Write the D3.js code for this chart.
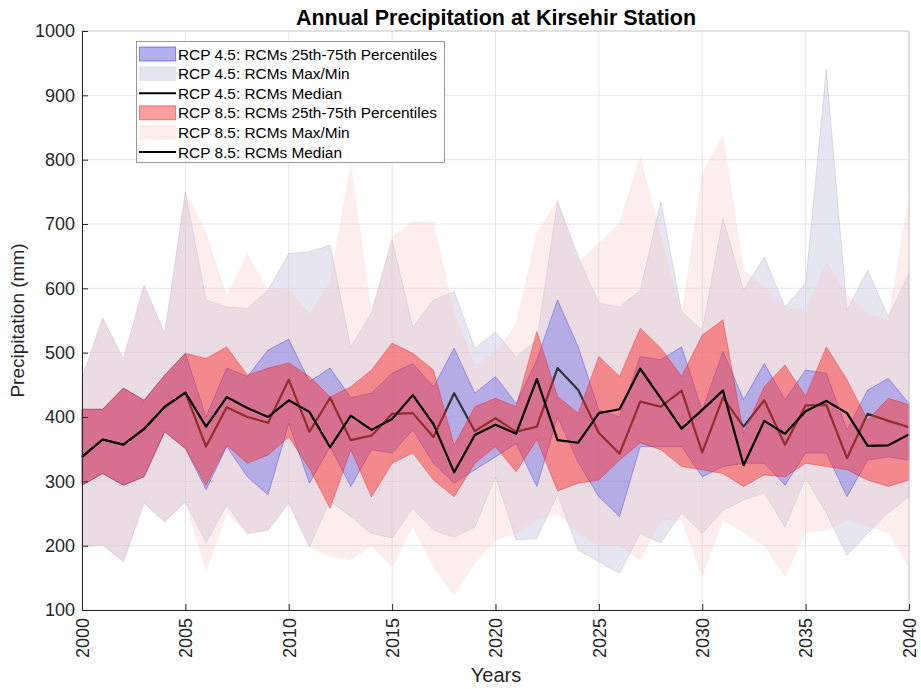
<!DOCTYPE html>
<html>
<head>
<meta charset="utf-8">
<script src="https://cdn.jsdelivr.net/npm/d3@7"></script>
<style>
  html, body { margin: 0; padding: 0; background: #fff; }
  svg { display: block; font-family: "Liberation Sans", Arial, sans-serif; }
</style>
</head>
<body>
<svg id="chart" width="921" height="689"></svg>
<script>
// ---------------- DATA ----------------
const years = d3.range(2000, 2041);
const xTicks = [2000, 2005, 2010, 2015, 2020, 2025, 2030, 2035, 2040];
const yTicks = [100, 200, 300, 400, 500, 600, 700, 800, 900, 1000];

// RCP 4.5
const max45 = [460,554,490,605,530,750,582,571,569,597,654,657,667,509,562,675,540,582,595,507,532,493,520,735,649,577,571,597,735,564,535,709,597,649,571,608,940,566,628,556,623];
const min45 = [198,201,175,266,237,268,205,263,219,224,266,198,270,245,219,212,258,224,213,229,307,209,211,280,193,175,157,219,204,251,219,255,271,282,229,305,251,185,219,251,276];
const q75_45 = [412,412,445,426,465,499,400,476,463,504,521,455,476,430,437,468,483,447,507,437,463,421,489,582,509,411,400,494,489,509,410,502,427,483,427,473,468,380,442,460,421];
const q25_45 = [294,312,294,307,377,351,287,354,307,279,390,297,354,292,349,344,380,328,297,318,338,359,292,400,330,276,245,354,354,354,307,323,328,328,294,344,344,276,333,338,333];
const med45 = [338,365,357,382,415,438,354,415,400,391,458,377,430,364,371,405,406,369,437,378,398,377,385,476,442,375,343,424,416,441,345,430,385,426,357,418,419,336,405,394,384];

// RCP 8.5
const max85 = [460,554,490,605,530,750,686,587,653,597,600,560,610,792,562,680,704,702,560,480,500,545,686,737,640,670,701,805,680,556,779,838,628,602,571,566,640,590,560,551,742];
const min85 = [198,201,175,266,237,268,161,250,219,224,266,198,183,178,200,167,230,167,123,173,209,219,240,250,220,200,200,178,240,240,152,240,220,200,152,220,224,240,230,220,167];
const q75_85 = [412,412,445,426,465,499,491,509,465,476,484,463,431,447,473,515,499,473,356,416,429,416,533,432,406,494,463,538,507,463,527,551,375,447,481,432,509,458,395,429,419];
const q25_85 = [294,312,294,307,377,351,294,356,328,341,369,320,258,349,276,328,344,302,276,328,354,315,365,285,297,302,333,360,349,323,318,312,292,310,307,328,323,318,302,292,302];
const med85 = [338,365,357,381,416,438,385,431,414,400,426,408,353,402,380,397,434,389,314,372,388,374,459,364,360,406,412,475,429,382,411,441,325,394,374,409,425,406,355,356,373];

const legendLabels = [
  "RCP 4.5: RCMs 25th-75th Percentiles",
  "RCP 4.5: RCMs Max/Min",
  "RCP 4.5: RCMs Median",
  "RCP 8.5: RCMs 25th-75th Percentiles",
  "RCP 8.5: RCMs Max/Min",
  "RCP 8.5: RCMs Median"
];

// ---------------- CHART ----------------
const svg = d3.select("#chart");
const M = { left: 82, right: 909, top: 31, bottom: 610 };

const x = d3.scaleLinear().domain([2000, 2040]).range([M.left, M.right]);
const y = d3.scaleLinear().domain([100, 1000]).range([M.bottom, M.top]);

// grid
const grid = svg.append("g");
grid.selectAll("line.gx").data(xTicks).join("line")
  .attr("x1", d => x(d)).attr("x2", d => x(d))
  .attr("y1", M.top).attr("y2", M.bottom)
  .attr("stroke", "#e6e6e6").attr("stroke-width", 1);
grid.selectAll("line.gy").data(yTicks).join("line")
  .attr("x1", M.left).attr("x2", M.right)
  .attr("y1", d => y(d)).attr("y2", d => y(d))
  .attr("stroke", "#e6e6e6").attr("stroke-width", 1);

function band(lo, hi) {
  return d3.area()
    .x((d, i) => x(years[i]))
    .y0((d, i) => y(lo[i]))
    .y1((d, i) => y(hi[i]))(years);
}
const lineGen = arr => d3.line().x((d, i) => x(years[i])).y((d, i) => y(arr[i]))(years);

const plot = svg.append("g");

// Max/Min bands
plot.append("path").attr("d", band(min45, max45))
  .attr("fill", "rgb(200,200,225)").attr("fill-opacity", 0.45)
  .attr("stroke", "rgb(120,120,170)").attr("stroke-opacity", 0.25).attr("stroke-width", 0.8);
plot.append("path").attr("d", band(min85, max85))
  .attr("fill", "rgb(250,200,200)").attr("fill-opacity", 0.3)
  .attr("stroke", "rgb(250,200,200)").attr("stroke-opacity", 0.2).attr("stroke-width", 0.8);

// RCP 4.5 IQR
plot.append("path").attr("d", band(q25_45, q75_45))
  .attr("fill", "rgb(100,100,230)").attr("fill-opacity", 0.4)
  .attr("stroke", "rgb(40,40,220)").attr("stroke-opacity", 0.45).attr("stroke-width", 0.8);
// RCP 4.5 median
plot.append("path").attr("d", lineGen(med45))
  .attr("fill", "none").attr("stroke", "#333").attr("stroke-width", 2.2)
  .attr("stroke-linejoin", "round");

// RCP 8.5 IQR
plot.append("path").attr("d", band(q25_85, q75_85))
  .attr("fill", "rgb(255,40,40)").attr("fill-opacity", 0.46)
  .attr("stroke", "rgb(230,20,20)").attr("stroke-opacity", 0.45).attr("stroke-width", 0.8);
// RCP 8.5 median
plot.append("path").attr("d", lineGen(med85))
  .attr("fill", "none").attr("stroke", "#000").attr("stroke-width", 2.2)
  .attr("stroke-linejoin", "round");

// axes frame
svg.append("line").attr("x1", M.left).attr("x2", M.right).attr("y1", M.top).attr("y2", M.top)
  .attr("stroke", "#d0d0d0");
svg.append("line").attr("x1", M.right).attr("x2", M.right).attr("y1", M.top).attr("y2", M.bottom)
  .attr("stroke", "#d0d0d0");

const xAxis = d3.axisBottom(x).tickValues(xTicks).tickFormat(d3.format("d"))
  .tickSizeInner(-6).tickSizeOuter(0);
const gx = svg.append("g").attr("transform", `translate(0,${M.bottom})`).call(xAxis);
gx.select(".domain").attr("stroke", "#262626");
gx.selectAll(".tick line").attr("stroke", "#262626");
gx.selectAll(".tick text")
  .attr("font-size", 18).attr("fill", "#262626")
  .attr("font-family", "'Liberation Sans', Arial, sans-serif")
  .attr("transform", "rotate(-90)")
  .attr("text-anchor", "end")
  .attr("x", -8).attr("y", 0).attr("dy", "0.35em");

const yAxis = d3.axisLeft(y).tickValues(yTicks).tickFormat(d3.format("d"))
  .tickSizeInner(-6).tickSizeOuter(0);
const gy = svg.append("g").attr("transform", `translate(${M.left},0)`).call(yAxis);
gy.select(".domain").attr("stroke", "#262626");
gy.selectAll(".tick line").attr("stroke", "#262626");
gy.selectAll(".tick text")
  .attr("font-size", 18).attr("fill", "#262626")
  .attr("font-family", "'Liberation Sans', Arial, sans-serif")
  .attr("x", -7);

// title & labels
svg.append("text").attr("x", 496).attr("y", 25)
  .attr("text-anchor", "middle").attr("font-size", 21.5).attr("font-weight", "bold")
  .attr("fill", "#000").text("Annual Precipitation at Kirsehir Station");
svg.append("text").attr("x", 496).attr("y", 682)
  .attr("text-anchor", "middle").attr("font-size", 20).attr("fill", "#262626").text("Years");
svg.append("text")
  .attr("transform", `translate(24,${(M.top + M.bottom) / 2}) rotate(-90)`)
  .attr("text-anchor", "middle").attr("font-size", 19).attr("fill", "#262626")
  .text("Precipitation (mm)");

// legend
const lg = svg.append("g");
lg.append("rect").attr("x", 136.5).attr("y", 41.5).attr("width", 308).attr("height", 121)
  .attr("fill", "#fff").attr("stroke", "#9a9a9a").attr("stroke-width", 1);
const swatches = [
  { type: "rect", fill: "rgb(100,100,230)", op: 0.5, stroke: "rgb(40,40,220)", sop: 0.5 },
  { type: "rect", fill: "rgb(200,200,225)", op: 0.45, stroke: "rgb(200,200,225)", sop: 0.3 },
  { type: "line", color: "#000" },
  { type: "rect", fill: "rgb(255,40,40)", op: 0.45, stroke: "rgb(230,20,20)", sop: 0.45 },
  { type: "rect", fill: "rgb(250,200,200)", op: 0.3, stroke: "rgb(250,200,200)", sop: 0.2 },
  { type: "line", color: "#000" }
];
legendLabels.forEach((lab, i) => {
  const cy = 54 + i * 19.6;
  const s = swatches[i];
  if (s.type === "rect") {
    lg.append("rect").attr("x", 139.5).attr("y", cy - 7).attr("width", 36).attr("height", 14)
      .attr("fill", s.fill).attr("fill-opacity", s.op)
      .attr("stroke", s.stroke).attr("stroke-opacity", s.sop);
  } else {
    lg.append("line").attr("x1", 139).attr("x2", 176).attr("y1", cy).attr("y2", cy)
      .attr("stroke", s.color).attr("stroke-width", 2);
  }
  lg.append("text").attr("x", 178).attr("y", cy).attr("dy", "0.36em")
    .attr("font-size", 15.4).attr("fill", "#000").text(lab);
});
</script>
</body>
</html>
